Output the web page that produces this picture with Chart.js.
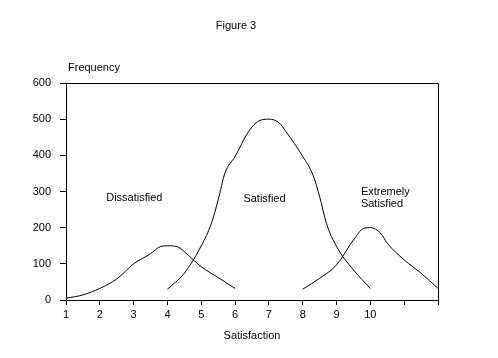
<!DOCTYPE html>
<html>
<head>
<meta charset="utf-8">
<script src="https://cdn.jsdelivr.net/npm/chart.js@4/dist/chart.umd.min.js"></script>
<style>
html,body{margin:0;padding:0;background:#fff;}
canvas{display:block;}
</style>
</head>
<body>
<canvas id="c" width="498" height="358"></canvas>
<script>
const dissatisfiedX = [1, 1.5, 2, 2.5, 3, 3.5, 3.8, 4, 4.3, 4.6, 5, 5.5, 6];
const dissatisfiedY = [5, 14, 32, 58, 100, 128, 148, 150, 147, 125, 92, 62, 32];
const satisfiedX = [4, 4.5, 5, 5.3, 5.5, 5.7, 6, 6.4, 6.7, 7, 7.3, 7.5, 8, 8.3, 8.5, 8.7, 9, 9.5, 10];
const satisfiedY = [30, 74, 150, 212, 277, 351, 397, 466, 495, 500, 490, 466, 397, 346, 286, 212, 148, 83, 32];
const extremeX = [8, 8.5, 9, 9.5, 9.8, 10, 10.3, 10.5, 11, 11.5, 12];
const extremeY = [30, 60, 97, 166, 198, 200, 185, 157, 111, 74, 32];
const xTickLabels = ['1','2','3','4','5','6','7','8','9','10'];
const curveLabels = [
  {lines: ['Dissatisfied'], x: 3.02, y: 282, align: 'center'},
  {lines: ['Satisfied'], x: 6.87, y: 279, align: 'center'},
  {lines: ['Extremely', 'Satisfied'], x: 9.72, y: 299, align: 'left'}
];
const FONT = '11px "Liberation Sans", Arial, sans-serif';

function pts(xs, ys){ return xs.map((x,i)=>({x:x, y:ys[i]})); }
function ds(label, xs, ys){
  return {label:label, data:pts(xs,ys), borderColor:'#000', borderWidth:1, pointRadius:0,
    fill:false, cubicInterpolationMode:'monotone', tension:0.4};
}

const textPlugin = {
  id:'texts',
  afterDraw(chart){
    const ctx = chart.ctx, a = chart.chartArea;
    const xs = chart.scales.x, ys = chart.scales.y;
    ctx.save();
    ctx.fillStyle = '#000';
    ctx.font = FONT;
    ctx.textBaseline = 'middle';
    ctx.strokeStyle = '#000'; ctx.lineWidth = 1;
    ctx.beginPath();
    ctx.moveTo(Math.round(a.left)+0.5, Math.round(a.top)+0.5);
    ctx.lineTo(Math.round(a.right)+0.5, Math.round(a.top)+0.5);
    ctx.lineTo(Math.round(a.right)+0.5, Math.round(a.bottom)+0.5);
    ctx.stroke();
    ctx.textAlign = 'center';
    ctx.fillText('Figure 3', 236, 26);
    ctx.fillText('Satisfaction', 252, 336);
    ctx.textAlign = 'left';
    ctx.fillText('Frequency', 68, 68);
    curveLabels.forEach(l=>{
      ctx.textAlign = l.align;
      const px = xs.getPixelForValue(l.x), py = ys.getPixelForValue(l.y);
      l.lines.forEach((t,i)=>ctx.fillText(t, px, py + i*12));
    });
    ctx.restore();
  }
};

new Chart(document.getElementById('c'), {
  type:'line',
  data:{datasets:[
    ds('Dissatisfied', dissatisfiedX, dissatisfiedY),
    ds('Satisfied', satisfiedX, satisfiedY),
    ds('Extremely Satisfied', extremeX, extremeY)
  ]},
  options:{
    responsive:false, animation:false, devicePixelRatio:1,
    layout:{padding:{left:0, top:83, right:60, bottom:38}},
    plugins:{legend:{display:false}, tooltip:{enabled:false}, title:{display:false}},
    scales:{
      x:{type:'linear', min:1, max:12,
        afterFit(s){ s.height = 20; },
        ticks:{stepSize:1, color:'#000', font:{family:'"Liberation Sans", Arial, sans-serif', size:11}, padding:3, maxRotation:0, autoSkip:false,
          callback:(v)=> (Number.isInteger(v) && v-1 < xTickLabels.length) ? xTickLabels[v-1] : ''},
        grid:{drawOnChartArea:false, drawTicks:true, tickLength:5, color:'#000'},
        border:{color:'#000', width:1}
      },
      y:{min:0, max:600,
        afterFit(s){ s.width = 66; },
        ticks:{stepSize:100, color:'#000', font:{family:'"Liberation Sans", Arial, sans-serif', size:11}, padding:9},
        grid:{drawOnChartArea:false, drawTicks:true, tickLength:6, color:'#000'},
        border:{color:'#000', width:1}
      }
    }
  },
  plugins:[textPlugin]
});
</script>
</body>
</html>
